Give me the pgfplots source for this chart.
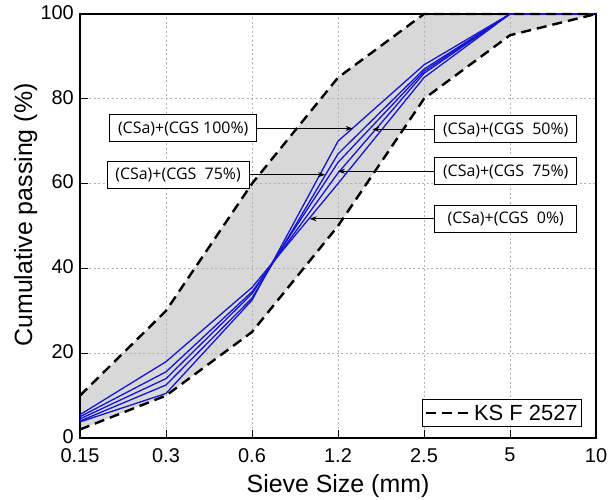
\documentclass[border=0pt]{standalone}
\usepackage{fontspec}
\setmainfont{Liberation Sans}
\newfontfamily\annfont{Open Sans}
\usepackage{pgfplots}
\pgfplotsset{compat=1.18}
\usetikzlibrary{arrows.meta}
\definecolor{bandgray}{RGB}{216,216,216}
\definecolor{lineblue}{RGB}{20,20,210}
\pgfplotsset{dashleg/.style={legend image code/.code={\draw[#1] (0bp,0bp) -- (45bp,0bp);}}}
\begin{document}
\begin{tikzpicture}
\begin{axis}[
  set layers,
  scale only axis,
  width=516bp, height=424bp,
  at={(0,0)}, anchor=south west,
  xmin=0, xmax=6, ymin=0, ymax=100,
  clip=false,
  xtick={0,1,2,3,4,5,6},
  xticklabels={0.15,0.3,0.6,1.2,2.5,5,10},
  ytick={0,20,40,60,80,100},
  xtick pos=bottom, ytick pos=left,
  tick align=inside,
  major tick length=8bp,
  tick style={black, line width=1bp},
  axis line style={black, line width=1.4bp},
  grid=major,
  major grid style={gray!60, dash pattern=on 2bp off 2.5bp, line width=0.6bp},
  /pgf/number format/assume math mode=true,
  tick label style={font=\fontsize{20}{24}\selectfont, inner sep=2bp},
  xticklabel style={yshift=-8bp},
  yticklabel style={xshift=-4bp, yshift=1.5bp},
  xlabel={Sieve Size (mm)},
  ylabel={Cumulative passing (\%)},
  label style={font=\fontsize{25}{30}\selectfont},
  xlabel style={at={(axis description cs:0.5,0)}, yshift=-54bp, anchor=base},
  ylabel style={at={(axis description cs:-0.093,0.526)}, anchor=base},
  legend style={at={(rel axis cs:0.973,0.026)}, anchor=south east,
    draw=black, line width=0.8bp, fill=white,
    font=\fontsize{22}{26}\selectfont, inner xsep=2bp, inner ysep=3bp},
  legend cell align=left,
]
% band
\addplot[draw=none, fill=bandgray, on layer=axis background, forget plot] coordinates {
  (0,10) (1,30) (2,60) (3,85) (4,100) (5,100) (6,100)
  (6,100) (5,95) (4,80) (3,50) (2,25) (1,10) (0,2)} -- cycle;
% blue curves
\addplot[lineblue, line width=1.3bp, forget plot] coordinates {(0,5.5) (1,18) (2,35.5) (3,60) (4,85) (5,100) (6,100)};
\addplot[lineblue, line width=1.3bp, forget plot] coordinates {(0,5.0) (1,15.6) (2,34.5) (3,62.5) (4,86) (5,100) (6,100)};
\addplot[lineblue, line width=1.3bp, forget plot] coordinates {(0,4.5) (1,14) (2,34) (3,65) (4,86.5) (5,100) (6,100)};
\addplot[lineblue, line width=1.3bp, forget plot] coordinates {(0,4.0) (1,12.5) (2,33) (3,67) (4,87) (5,100) (6,100)};
\addplot[lineblue, line width=1.3bp, forget plot] coordinates {(0,3.8) (1,10.5) (2,32.5) (3,70) (4,88) (5,100) (6,100)};
% limits
\addplot[black, line width=2.4bp, dash pattern=on 10bp off 6bp, dashleg]
  coordinates {(0,10) (1,30) (2,60) (3,85) (4,100) (5,100) (6,100)};
\addlegendentry{KS F 2527}
\addplot[black, line width=2.4bp, dash pattern=on 10bp off 6bp, forget plot]
  coordinates {(0,2) (1,10) (2,25) (3,50) (4,80) (5,95) (6,100)};
% annotations
\tikzset{ann/.style={draw=black, fill=white, line width=1bp, font=\annfont\fontsize{16}{19}\selectfont, minimum height=27bp, inner xsep=4bp, text depth=0.25ex}}
\tikzset{arr/.style={black, line width=0.7bp, -{Stealth[length=7bp,width=5bp]}}}
\node[ann, minimum width=147bp] (a1) at (axis cs:1.20,73.0) {(CSa)+(CGS 100\%)};
\draw[arr] (a1.east) -- (axis cs:3.17,73.0);
\node[ann, minimum width=142bp] (a2) at (axis cs:1.14,62.1) {(CSa)+(CGS~~75\%)};
\draw[arr] (a2.east) -- (axis cs:2.85,62.1);
\node[ann, minimum width=142bp] (b1) at (axis cs:4.95,72.8) {(CSa)+(CGS~~50\%)};
\draw[arr] (b1.west) -- (axis cs:3.40,72.8);
\node[ann, minimum width=142bp] (b2) at (axis cs:4.95,62.9) {(CSa)+(CGS~~75\%)};
\draw[arr] (b2.west) -- (axis cs:3.00,62.9);
\node[ann, minimum width=142bp] (b3) at (axis cs:4.95,51.7) {(CSa)+(CGS~~0\%)};
\draw[arr] (b3.west) -- (axis cs:2.67,51.7);
\end{axis}
\pgfresetboundingbox
\path[use as bounding box] (-80bp,-62bp) rectangle (533bp,438bp);
\end{tikzpicture}
\end{document}
